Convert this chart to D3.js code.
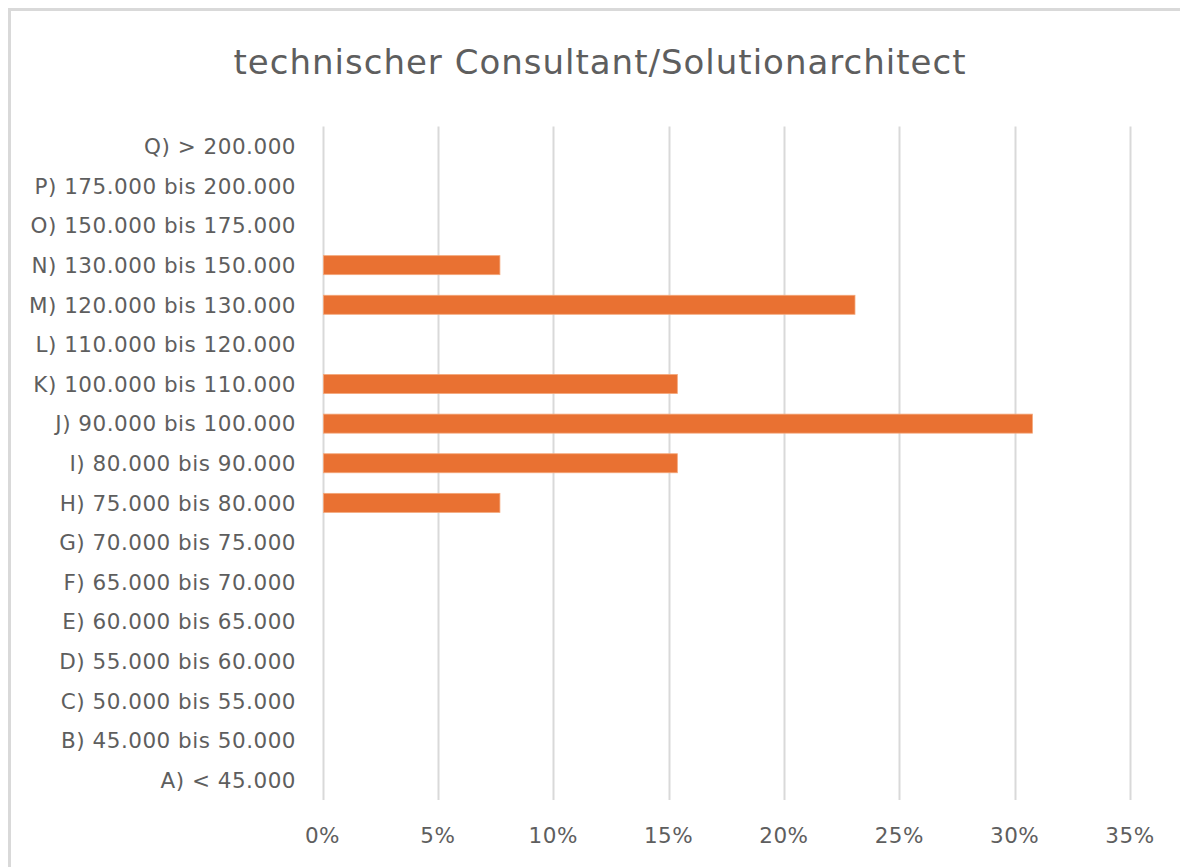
<!DOCTYPE html>
<html>
<head>
<meta charset="utf-8">
<script src="https://cdn.jsdelivr.net/npm/d3@7"></script>
<style>
  body { margin: 0; background: #fff; }
  svg { display: block; }
  text { font-family: "DejaVu Sans", sans-serif; fill: #5e5e5e; }
</style>
</head>
<body>
<div id="chart"></div>
<script>
// Titre du graphique
const title = "technischer Consultant/Solutionarchitect";

// Catégories (de haut en bas)
const categories = [
    "Q) > 200.000",
    "P) 175.000 bis 200.000",
    "O) 150.000 bis 175.000",
    "N) 130.000 bis 150.000",
    "M) 120.000 bis 130.000",
    "L) 110.000 bis 120.000",
    "K) 100.000 bis 110.000",
    "J) 90.000 bis 100.000",
    "I) 80.000 bis 90.000",
    "H) 75.000 bis 80.000",
    "G) 70.000 bis 75.000",
    "F) 65.000 bis 70.000",
    "E) 60.000 bis 65.000",
    "D) 55.000 bis 60.000",
    "C) 50.000 bis 55.000",
    "B) 45.000 bis 50.000",
    "A) < 45.000"
];

// Valeurs (parts)
const values = [0, 0, 0, 0.0769, 0.2308, 0, 0.1538, 0.3077, 0.1538, 0.0769, 0, 0, 0, 0, 0, 0, 0];

// Graduations
const ticks = [0, 0.05, 0.10, 0.15, 0.20, 0.25, 0.30, 0.35];

const width = 1180;
const height = 867;
const margin = { top: 126.5, right: 50, bottom: 67, left: 322.5 };

const svg = d3.select("#chart").append("svg")
    .attr("width", width)
    .attr("height", height);

// Bordure de la zone du graphique
svg.append("rect")
    .attr("x", 9.5)
    .attr("y", 9.5)
    .attr("width", width + 20)
    .attr("height", height + 20)
    .attr("fill", "none")
    .attr("stroke", "#d9d9d9")
    .attr("stroke-width", 3);

// Titre
svg.append("text")
    .attr("x", 600)
    .attr("y", 74)
    .attr("text-anchor", "middle")
    .attr("font-size", "34px")
    .attr("letter-spacing", "1px")
    .text(title);

const x = d3.scaleLinear()
    .domain([0, 0.35])
    .range([margin.left, 1130]);

const y = d3.scaleBand()
    .domain(categories)
    .range([margin.top, 800])
    .paddingInner(0.52)
    .paddingOuter(0.26);

// Lignes de grille verticales
svg.append("g")
    .selectAll("line")
    .data(ticks)
    .join("line")
    .attr("x1", d => Math.round(x(d)) + 0.5)
    .attr("x2", d => Math.round(x(d)) + 0.5)
    .attr("y1", margin.top)
    .attr("y2", 800)
    .attr("stroke", "#d9d9d9")
    .attr("stroke-width", 2);

// Barres
svg.append("g")
    .selectAll("rect")
    .data(categories)
    .join("rect")
    .attr("x", x(0) + 1)
    .attr("y", d => y(d))
    .attr("width", (d, i) => Math.max(0, x(values[i]) - x(0) - 1))
    .attr("height", y.bandwidth())
    .attr("fill", "#e97132")
    .attr("stroke", d => values[categories.indexOf(d)] > 0 ? "#f4a77a" : "none")
    .attr("stroke-width", 0.8);

// Étiquettes des catégories
svg.append("g")
    .selectAll("text")
    .data(categories)
    .join("text")
    .attr("x", 296)
    .attr("y", d => y(d) + y.bandwidth() / 2)
    .attr("dy", "0.36em")
    .attr("text-anchor", "end")
    .attr("font-size", "21.5px")
    .attr("letter-spacing", "0.5px")
    .text(d => d);

// Étiquettes de l'axe x
const fmt = d3.format(".0%");
svg.append("g")
    .selectAll("text")
    .data(ticks)
    .join("text")
    .attr("x", d => x(d))
    .attr("y", 843)
    .attr("text-anchor", "middle")
    .attr("font-size", "21.5px")
    .attr("letter-spacing", "0.5px")
    .text(d => fmt(d));
</script>
</body>
</html>
